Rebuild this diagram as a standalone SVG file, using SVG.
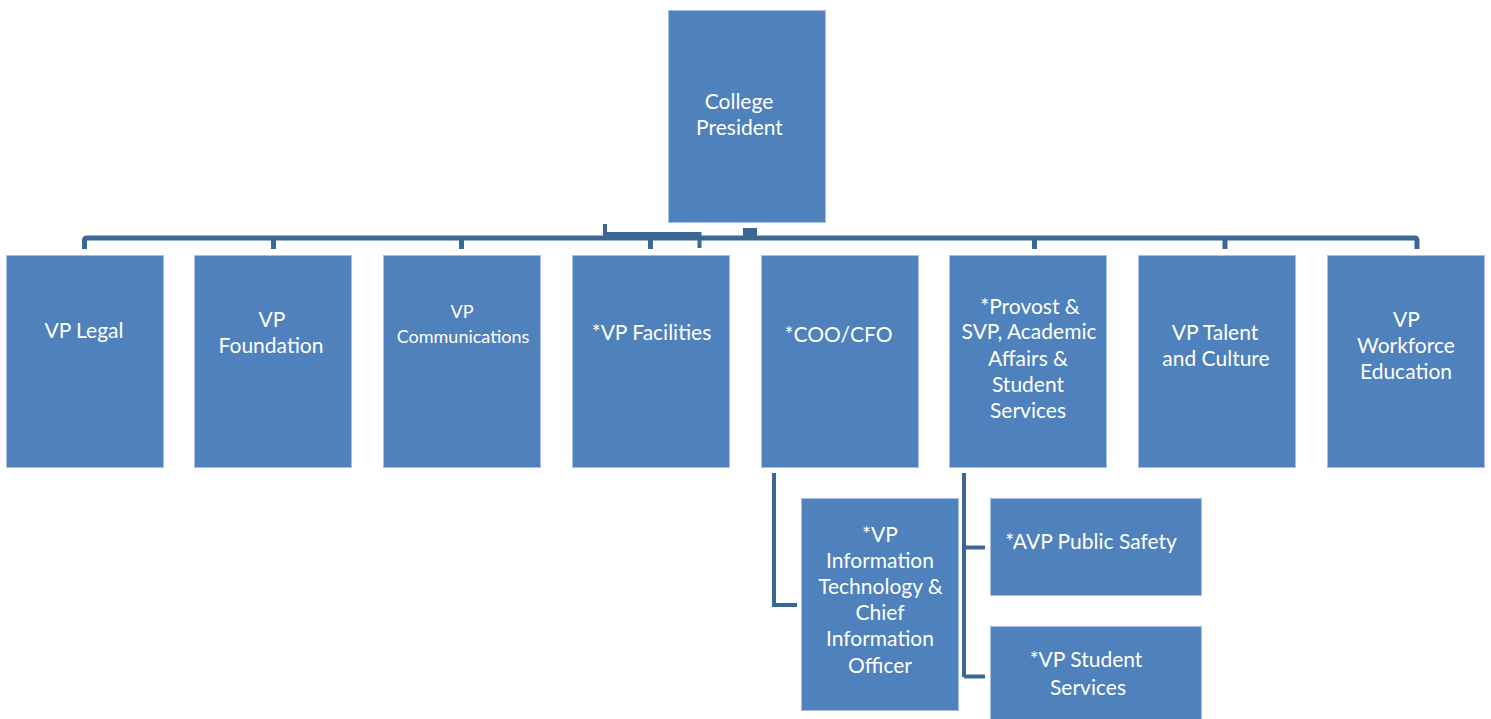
<svg xmlns="http://www.w3.org/2000/svg" width="1491" height="719" viewBox="0 0 1491 719">
<style>
.box{fill:#4f81bd;stroke:#a9c1df;stroke-width:1}
.t{font-family:Lato,"Liberation Sans",sans-serif;font-size:21px;fill:#ffffff;text-anchor:middle}
.ts{font-size:18px}
.c{fill:none;stroke:#3b6795;stroke-width:5;stroke-linejoin:round}
.c4{fill:none;stroke:#3b6795;stroke-width:4}
</style>
<rect width="1491" height="719" fill="#ffffff"/>
<g id="connectors">
<path class="c" d="M84.5,249 V240.5 Q84.5,238 87,238 H1414.5 Q1417,238 1417,240.5 V249"/>
<path class="c" d="M273.5,238 V249 M461.5,238 V249 M650.5,238 V249 M1034.5,238 V249 M1225,238 V249"/>
<path class="c4" d="M605,224 V234 H699.5 V248"/>
<rect x="743" y="228" width="14" height="9" fill="#3b6795"/>
<path class="c4" d="M774,473 V605 H797"/>
<path class="c4" d="M964,473 V677 M964,547.5 H985 M964,676.5 H985"/>
</g>
<g id="president"><rect class="box" x="668.5" y="10.5" width="157" height="212"/><text class="t" x="739" y="109">College</text><text class="t" x="739.5" y="135">President</text></g>
<g id="vp-legal"><rect class="box" x="6.5" y="255.5" width="157" height="212"/><text class="t" x="84" y="338">VP Legal</text></g>
<g id="vp-foundation"><rect class="box" x="194.5" y="255.5" width="157" height="212"/><text class="t" x="272" y="327">VP</text><text class="t" x="271" y="353">Foundation</text></g>
<g id="vp-communications"><rect class="box" x="383.5" y="255.5" width="157" height="212"/><text class="t ts" x="462" y="318">VP</text><text class="t ts" x="463" y="343">Communications</text></g>
<g id="vp-facilities"><rect class="box" x="572.5" y="255.5" width="157" height="212"/><text class="t" x="651.5" y="340">*VP Facilities</text></g>
<g id="coo-cfo"><rect class="box" x="761.5" y="255.5" width="157" height="212"/><text class="t" x="838.5" y="342">*COO/CFO</text></g>
<g id="provost"><rect class="box" x="949.5" y="255.5" width="157" height="212"/><text class="t" x="1030" y="314">*Provost &amp;</text><text class="t" x="1029" y="339">SVP, Academic</text><text class="t" x="1028" y="366">Affairs &amp;</text><text class="t" x="1028" y="392">Student</text><text class="t" x="1028" y="418">Services</text></g>
<g id="vp-talent"><rect class="box" x="1138.5" y="255.5" width="157" height="212"/><text class="t" x="1215" y="340">VP Talent</text><text class="t" x="1216" y="366">and Culture</text></g>
<g id="vp-workforce"><rect class="box" x="1327.5" y="255.5" width="157" height="212"/><text class="t" x="1406.5" y="327">VP</text><text class="t" x="1406" y="353">Workforce</text><text class="t" x="1406" y="379">Education</text></g>
<g id="vp-it"><rect class="box" x="801.5" y="498.5" width="157" height="212"/><text class="t" x="880" y="542">*VP</text><text class="t" x="880" y="568">Information</text><text class="t" x="880.5" y="594">Technology &amp;</text><text class="t" x="880" y="620">Chief</text><text class="t" x="880" y="646">Information</text><text class="t" x="880" y="673">Officer</text></g>
<g id="avp-public-safety"><rect class="box" x="990.5" y="498.5" width="211" height="97"/><text class="t" x="1091" y="549">*AVP Public Safety</text></g>
<g id="vp-student-services"><rect class="box" x="990.5" y="626.5" width="211" height="97"/><text class="t" x="1086" y="667">*VP Student</text><text class="t" x="1088" y="695">Services</text></g>
</svg>
